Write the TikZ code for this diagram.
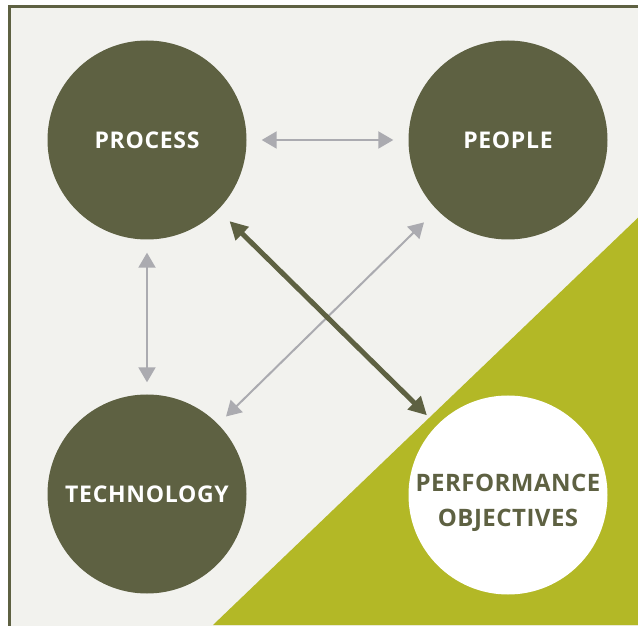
\documentclass[tikz,border=0pt]{standalone}
\usepackage{fontspec}
\setmainfont{Open Sans}
\usetikzlibrary{arrows.meta,positioning}
\definecolor{darkolive}{HTML}{5E6142}
\definecolor{limegreen}{HTML}{B3B826}
\definecolor{paper}{HTML}{F2F2EE}
\definecolor{arrowgrey}{HTML}{ABABB0}
\tikzstyle{darkcircle} = [circle, minimum size=199pt, inner sep=0pt, fill=darkolive,
text=white, font=\fontsize{23}{26}\selectfont\bfseries\addfontfeatures{LetterSpace=3}]
\tikzstyle{whitecircle} = [circle, minimum size=199pt, inner sep=0pt, fill=white]
\tikzstyle{whitetext} = [text=darkolive, align=center,
font=\fontsize{24}{35}\selectfont\bfseries\addfontfeatures{LetterSpace=2}]
\tikzstyle{greyarrow} = [line width=2pt, draw=arrowgrey, {Triangle[length=15pt,width=17pt]}-{Triangle[length=15pt,width=17pt]}]
\tikzstyle{arrow} = [line width=5pt, draw=darkolive, {Triangle[length=18pt,width=18pt]}-{Triangle[length=18pt,width=18pt]}]

\begin{document}
\begin{tikzpicture}[x=1pt, y=1pt, node distance=361pt]
\useasboundingbox (0,0) rectangle (638,625);
\clip (0,0) rectangle (638,625);
% background and frame
\fill[paper] (9.5,-5) rectangle (645,618);
\draw[line width=3pt, darkolive] (9.5,-5) |- (645,618);
\fill[limegreen] (213,0) -- (645,414) -- (645,0) -- cycle;

\node (process)[darkcircle] at (147,485) {PROCESS};
\node (people)[darkcircle, right of=process]{PEOPLE};
\node (technology)[darkcircle, below of=process, node distance=354pt]{TECHNOLOGY};
\node (objectives)[whitecircle, right of=technology, yshift=-1pt]{};
\node (objlabel)[whitetext] at ([yshift=-8pt]objectives.center){PERFORMANCE\\OBJECTIVES};

\draw [greyarrow, shorten <=15pt, shorten >=15pt](process) -- (people);
\draw [greyarrow, shorten <=13pt, shorten >=12pt](process) -- (technology);
\draw [greyarrow, shorten <=11pt, shorten >=18pt](technology) -- (people);
\draw [arrow, shorten <=16pt, shorten >=14pt](process) -- (objectives);
\end{tikzpicture}
\end{document}
